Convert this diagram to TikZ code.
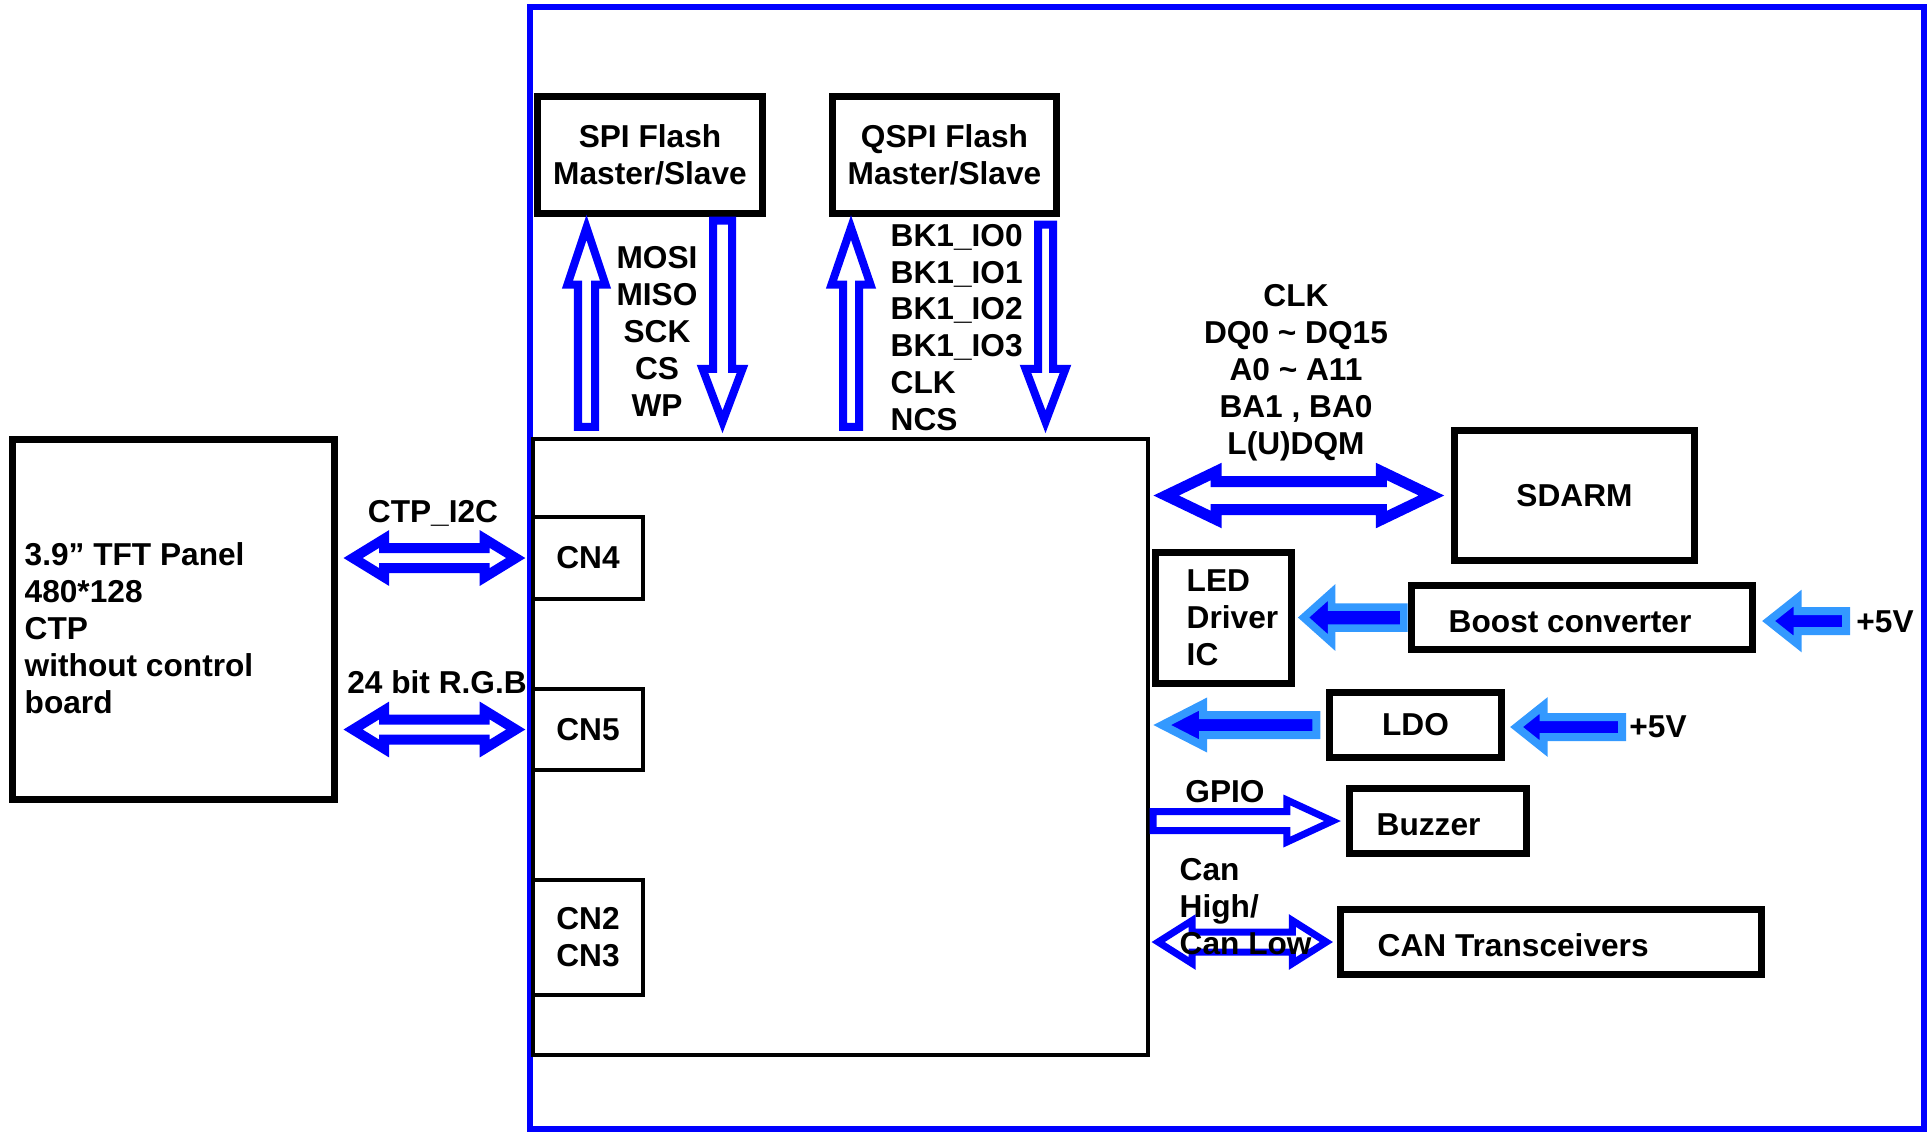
\documentclass[tikz,border=0pt]{standalone}
\usepackage{fontspec}
\setmainfont{Liberation Sans}
\usepackage{tikz}
\usetikzlibrary{calc,positioning}
\definecolor{lightblue}{RGB}{51,153,255}

\begin{document}
\begin{tikzpicture}[x=0.01cm, y=-0.01cm,
    font=\fontsize{9}{10.5}\selectfont\bfseries,
    box/.style={draw, line width=0.07cm, align=center},
    thinbox/.style={draw, line width=0.04cm, align=center},
    lbl/.style={inner sep=0pt, align=left},
    hollow/.style={draw=blue, fill=white, line width=0.08cm},
    pwr/.style={draw=lightblue, fill=blue, line width=0.08cm},
    ba shaft/.code={\def\bashaft{#1}},
    ba head/.code={\def\bahead{#1}},
    ba hlen/.code={\def\bahlen{#1}},
    ba sgap/.code={\def\basgap{#1}},
    ba tgap/.code={\def\batgap{#1}},
    ba shaft=0.1cm, ba head=0.2cm, ba hlen=0.4cm, ba sgap=0cm, ba tgap=0cm,
    one head/.style={to path={
      ($(\tikztostart)!\basgap!(\tikztotarget)$) coordinate (bs)
      ($(\tikztotarget)!\batgap!(\tikztostart)$) coordinate (bt)
      ($(bt)!\bahlen!(bs)$) coordinate (bc)
      ($(bs)!\bashaft!90:(bt)$)
        -- ($(bc)!\bashaft!-90:(bs)$) -- ($(bc)!\bahead!-90:(bs)$)
        -- (bt)
        -- ($(bc)!\bahead!90:(bs)$) -- ($(bc)!\bashaft!90:(bs)$)
        -- ($(bs)!\bashaft!-90:(bt)$) -- cycle}},
    two heads/.style={to path={
      ($(\tikztostart)!\basgap!(\tikztotarget)$) coordinate (bs)
      ($(\tikztotarget)!\batgap!(\tikztostart)$) coordinate (bt)
      ($(bs)!\bahlen!(bt)$) coordinate (bc1)
      ($(bt)!\bahlen!(bs)$) coordinate (bc2)
      (bs) -- ($(bc1)!\bahead!90:(bt)$) -- ($(bc1)!\bashaft!90:(bt)$)
        -- ($(bc2)!\bashaft!-90:(bs)$) -- ($(bc2)!\bahead!-90:(bs)$)
        -- (bt)
        -- ($(bc2)!\bahead!90:(bs)$) -- ($(bc2)!\bashaft!90:(bs)$)
        -- ($(bc1)!\bashaft!-90:(bt)$) -- ($(bc1)!\bahead!-90:(bt)$)
        -- cycle}}
]
\useasboundingbox (0,0) rectangle (1930,1132);

% ---- Placa (marco azul) ----
\node[draw=blue, line width=0.06cm, inner sep=0pt, minimum width=13.94cm, minimum height=11.22cm] (board) at (1227,568) {};

% ---- Bloques ----
\node[box, minimum width=2.25cm, minimum height=1.17cm] (spi) at (650,155) {SPI Flash\\Master/Slave};
\node[box, minimum width=2.24cm, minimum height=1.17cm] (qspi) at (944.5,155) {QSPI Flash\\Master/Slave};
\node[thinbox, minimum width=6.15cm, minimum height=6.16cm] (mcu) at (840.5,747) {};
\node[thinbox, line width=0.035cm, minimum width=1.10cm, minimum height=0.82cm] (cn4) at (588,558) {CN4};
\node[thinbox, line width=0.035cm, minimum width=1.10cm, minimum height=0.81cm] (cn5) at (588,729.5) {CN5};
\node[thinbox, line width=0.035cm, minimum width=1.10cm, minimum height=1.15cm] (cn23) at (588,937.5) {CN2\\CN3};
\node[box, minimum width=3.22cm, minimum height=3.60cm] (panel) at (173.5,619.5) {};
\node[box, minimum width=2.40cm, minimum height=1.30cm] (sdarm) at (1574.5,495.5) {SDARM};
\node[box, minimum width=1.36cm, minimum height=1.31cm] (led) at (1223.5,618) {};
\node[box, minimum width=3.41cm, minimum height=0.64cm] (boost) at (1582,617.5) {};
\node[box, minimum width=1.72cm, minimum height=0.65cm] (ldo) at (1415.5,725) {LDO};
\node[box, minimum width=1.77cm, minimum height=0.65cm] (buzzer) at (1438,821) {};
\node[box, minimum width=4.21cm, minimum height=0.65cm] (can) at (1551,942) {};

% ---- Flechas ----
\draw[hollow, ba shaft=0.085cm, ba head=0.19cm, ba hlen=0.57cm, ba sgap=0.10cm, ba tgap=0.105cm]
  (586.5,0 |- mcu.north) to[one head] (586.5,0 |- spi.south);
\draw[hollow, ba shaft=0.095cm, ba head=0.20cm, ba hlen=0.53cm, ba sgap=0.035cm, ba tgap=0.15cm]
  (722.5,0 |- spi.south) to[one head] (722.5,0 |- mcu.north);
\draw[hollow, ba shaft=0.08cm, ba head=0.195cm, ba hlen=0.57cm, ba sgap=0.10cm, ba tgap=0.105cm]
  (851,0 |- mcu.north) to[one head] (851,0 |- qspi.south);
\draw[hollow, ba shaft=0.075cm, ba head=0.20cm, ba hlen=0.53cm, ba sgap=0.075cm, ba tgap=0.15cm]
  (1045.5,0 |- qspi.south) to[one head] (1045.5,0 |- mcu.north);

\draw[hollow, line width=0.10cm, ba shaft=0.10cm, ba head=0.19cm, ba hlen=0.31cm, ba sgap=0.15cm, ba tgap=0.155cm]
  (panel.east |- cn4.west) to[two heads] (cn4.west);
\draw[hollow, line width=0.10cm, ba shaft=0.10cm, ba head=0.19cm, ba hlen=0.31cm, ba sgap=0.15cm, ba tgap=0.155cm]
  (panel.east |- cn5.west) to[two heads] (cn5.west);
\draw[hollow, line width=0.11cm, ba shaft=0.14cm, ba head=0.24cm, ba hlen=0.50cm, ba sgap=0.16cm, ba tgap=0.195cm]
  (mcu.east |- sdarm.west) to[two heads] (sdarm.west);
\draw[hollow, line width=0.07cm, ba shaft=0.095cm, ba head=0.21cm, ba hlen=0.455cm, ba sgap=0.03cm, ba tgap=0.135cm]
  (mcu.east |- buzzer.west) to[one head] (buzzer.west);
\draw[hollow, line width=0.07cm, ba shaft=0.10cm, ba head=0.215cm, ba hlen=0.34cm, ba sgap=0.08cm, ba tgap=0.105cm]
  (mcu.east |- can.west) to[two heads] (can.west);

% Alimentacion
\coordinate (vin1) at (1846,621);
\coordinate (vin2) at (1622,727);
\draw[pwr, line width=0.075cm, ba shaft=0.105cm, ba head=0.25cm, ba hlen=0.28cm, ba sgap=0.04cm, ba tgap=0.085cm]
  (boost.west) to[one head] (boost.west -| led.east);
\draw[pwr, ba shaft=0.10cm, ba head=0.23cm, ba hlen=0.29cm, ba tgap=0.125cm]
  (vin1) to[one head] (vin1 -| boost.east);
\draw[pwr, ba shaft=0.10cm, ba head=0.21cm, ba hlen=0.41cm, ba sgap=0.095cm, ba tgap=0.12cm]
  (ldo.west) to[one head] (ldo.west -| mcu.east);
\draw[pwr, ba shaft=0.10cm, ba head=0.215cm, ba hlen=0.27cm, ba tgap=0.115cm]
  (vin2) to[one head] (vin2 -| ldo.east);

% ---- Textos ----
\node[lbl, anchor=west] (paneltxt) at (24,628.5) {3.9” TFT Panel\\480*128\\CTP\\without control\\board};
\node[lbl, anchor=west] (ledtxt) at (1186,618) {LED\\Driver\\IC};
\node[lbl, anchor=west] (boosttxt) at (1448,622) {Boost converter};
\node[lbl, anchor=west] (buzztxt) at (1376,825) {Buzzer};
\node[lbl, anchor=west] (cantxt) at (1377,945) {CAN Transceivers};
\node[lbl, align=center] (spisig) at (657,331.5) {MOSI\\MISO\\SCK\\CS\\WP};
\node[lbl, anchor=west] (qspisig) at (890,327.5) {BK1\_IO0\\BK1\_IO1\\BK1\_IO2\\BK1\_IO3\\CLK\\NCS};
\node[lbl, align=center] (sdsig) at (1296,373) {CLK\\DQ0 \textasciitilde{} DQ15\\A0 \textasciitilde{} A11\\BA1 , BA0\\L(U)DQM};
\node[lbl] (i2ctxt) at (433,513) {CTP\_I2C};
\node[lbl] (rgbtxt) at (437,682) {24 bit R.G.B};
\node[lbl] (gpiotxt) at (1225,792) {GPIO};
\node[lbl, anchor=west] (cantag) at (1179,907) {Can\\High/\\Can Low};
\node[lbl] (vtxt1) at (1885,622) {+5V};
\node[lbl] (vtxt2) at (1658,727) {+5V};

\end{tikzpicture}
\end{document}
